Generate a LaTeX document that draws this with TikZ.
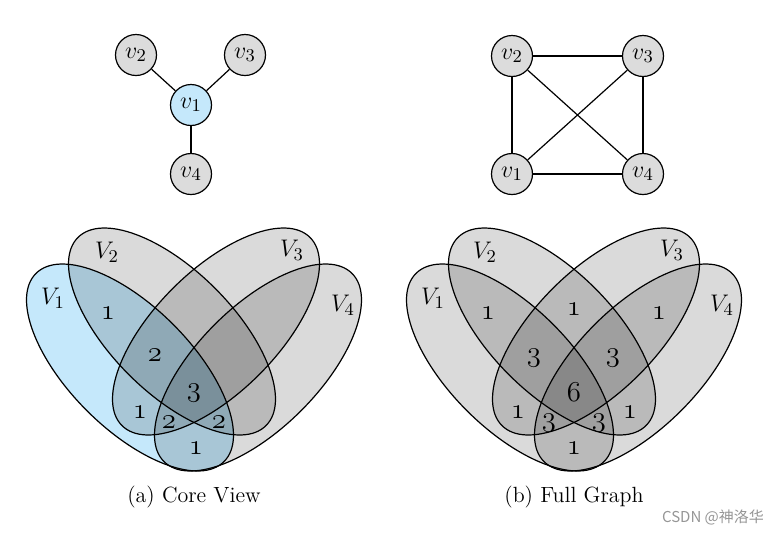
\documentclass[tikz,border=0pt]{standalone}
\usepackage{amsmath}
\usepackage{fontspec}
\usetikzlibrary{positioning}
\newfontfamily\cjkfont{Noto Sans CJK SC}
\definecolor{coreblue}{RGB}{197,232,251}
\definecolor{nodegray}{RGB}{220,220,220}
\definecolor{markgray}{RGB}{150,150,150}
\newcommand{\cnt}[1]{{\usefont{OML}{cmm}{m}{it}#1}}

\begin{document}
\begin{tikzpicture}[x=0.5pt, y=-0.5pt,
      gnode/.style={draw, circle, line width=0.6pt, fill=nodegray, minimum size=20.5pt, inner sep=0pt, font=\fontsize{13}{15}\selectfont},
      edge/.style={line width=0.6pt},
      setshade/.style={fill=black, fill opacity=0.145},
      setline/.style={line width=0.6pt}]
  \tikzstyle{setlabel} = [inner sep=0pt, font=\fontsize{13}{15}\selectfont]
  \tikzstyle{count} = [inner sep=0pt, font=\fontsize{14}{16}\selectfont]
  \tikzstyle{caption} = [inner sep=0pt, font=\fontsize{11}{13}\selectfont]
  \useasboundingbox (0,0) rectangle (778,532);

  % Core view: star around v1
  \node (c1) [gnode, fill=coreblue] at (191,105) {$v_1$};
  \node (c2) [gnode, on grid, above left=25pt and 27.5pt of c1] {$v_2$};
  \node (c3) [gnode, on grid, above right=25pt and 27pt of c1] {$v_3$};
  \node (c4) [gnode, on grid, below=34.5pt of c1] {$v_4$};
  \draw [edge] (c1) -- (c2);
  \draw [edge] (c1) -- (c3);
  \draw [edge] (c1) -- (c4);

  % Full graph: every pair joined
  \node (f1) [gnode] at (512,174) {$v_1$};
  \node (f2) [gnode, on grid, above=59pt of f1] {$v_2$};
  \node (f3) [gnode, on grid, right=65.5pt of f2] {$v_3$};
  \node (f4) [gnode, on grid, right=65.5pt of f1] {$v_4$};
  \draw [edge] (f1) -- (f2);
  \draw [edge] (f2) -- (f3);
  \draw [edge] (f3) -- (f4);
  \draw [edge] (f4) -- (f1);
  \draw [edge] (f1) -- (f3);
  \draw [edge] (f2) -- (f4);

  % Core view sets, V1 in blue
  \fill [coreblue, shift={(130,367.5)}, rotate=-45] (0,0) ellipse [x radius=66.5pt, y radius=30.5pt];
  \foreach \cx/\cy/\ang in {172/331.5/-45, 216/331.5/45, 258/367.5/45}
    \fill [setshade, shift={(\cx,\cy)}, rotate=\ang] (0,0) ellipse [x radius=66.5pt, y radius=30.5pt];
  \foreach \cx/\cy/\ang in {130/367.5/-45, 172/331.5/-45, 216/331.5/45, 258/367.5/45}
    \draw [setline, shift={(\cx,\cy)}, rotate=\ang] (0,0) ellipse [x radius=66.5pt, y radius=30.5pt];

  \node (a1) [setlabel] at (53,298) {$V_1$};
  \node (a2) [setlabel] at (107,252) {$V_2$};
  \node (a3) [setlabel] at (292,250) {$V_3$};
  \node (a4) [setlabel] at (343,305) {$V_4$};
  \node (a12) [count] at (108,313) {\cnt{1}};
  \node (a123) [count] at (155,355) {\cnt{2}};
  \node (a1234) [count] at (194,393) {\cnt{3}};
  \node (a13) [count] at (140,412) {\cnt{1}};
  \node (a134) [count] at (169,422) {\cnt{2}};
  \node (a124) [count] at (219,422) {\cnt{2}};
  \node (a14) [count] at (196,448) {\cnt{1}};
  \node (capa) [caption] at (194,497.5) {(a) Core View};

  % Full graph sets, same layout moved right
  \begin{scope}[xshift=190pt]
    \foreach \cx/\cy/\ang in {130/367.5/-45, 172/331.5/-45, 216/331.5/45, 258/367.5/45}
      \fill [setshade, shift={(\cx,\cy)}, rotate=\ang] (0,0) ellipse [x radius=66.5pt, y radius=30.5pt];
    \foreach \cx/\cy/\ang in {130/367.5/-45, 172/331.5/-45, 216/331.5/45, 258/367.5/45}
      \draw [setline, shift={(\cx,\cy)}, rotate=\ang] (0,0) ellipse [x radius=66.5pt, y radius=30.5pt];

    \node (b1) [setlabel] at (53,298) {$V_1$};
    \node (b2) [setlabel] at (105,252) {$V_2$};
    \node (b3) [setlabel] at (292,250) {$V_3$};
    \node (b4) [setlabel] at (342,305) {$V_4$};
    \node (b12) [count] at (108,313) {\cnt{1}};
    \node (b23) [count] at (194,309) {\cnt{1}};
    \node (b34) [count] at (279,313) {\cnt{1}};
    \node (b123) [count] at (154,358) {\cnt{3}};
    \node (b234) [count] at (233,358) {\cnt{3}};
    \node (b1234) [count] at (194,392) {\cnt{6}};
    \node (b13) [count] at (138,412) {\cnt{1}};
    \node (b24) [count] at (250,412) {\cnt{1}};
    \node (b134) [count] at (169,423) {\cnt{3}};
    \node (b124) [count] at (219,423) {\cnt{3}};
    \node (b14) [count] at (194,448) {\cnt{1}};
    \node (capb) [caption] at (194,497.5) {(b) Full Graph};
  \end{scope}

  % watermark
  \node (mark) [text=markgray, inner sep=0pt, font=\cjkfont\fontsize{7.5}{9}\selectfont] at (713,517) {CSDN @神洛华};
\end{tikzpicture}
\end{document}
